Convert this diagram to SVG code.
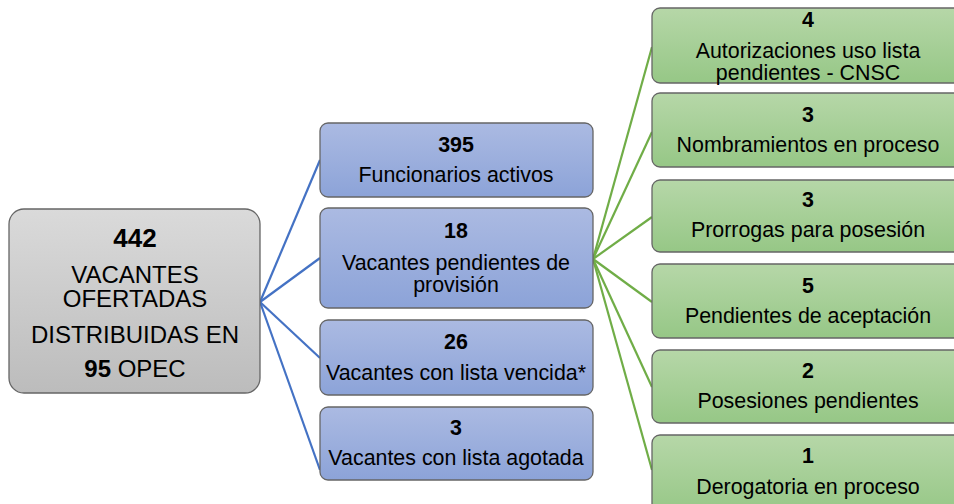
<svg xmlns="http://www.w3.org/2000/svg" width="954" height="504" viewBox="0 0 954 504">
<defs>
<linearGradient id="gGray" x1="0" y1="0" x2="0" y2="1"><stop offset="0" stop-color="#dadada"/><stop offset="1" stop-color="#bcbcbc"/></linearGradient>
<linearGradient id="gBlue" x1="0" y1="0" x2="0" y2="1"><stop offset="0" stop-color="#abbae2"/><stop offset="1" stop-color="#8ca3d8"/></linearGradient>
<linearGradient id="gGreen" x1="0" y1="0" x2="0" y2="1"><stop offset="0" stop-color="#b6d7a8"/><stop offset="1" stop-color="#96c786"/></linearGradient>
</defs>
<style>
text{font-family:"Liberation Sans",Arial,sans-serif;fill:#000;text-anchor:middle}
.b{font-weight:bold}
.box{stroke:#666;stroke-width:1.3}
.gray{fill:url(#gGray)}
.blue{fill:url(#gBlue)}
.green{fill:url(#gGreen)}
.t21{font-size:21.4px}
.t23{font-size:24px}
.bl{stroke:#4472c4;stroke-width:2.2;fill:none}
.gl{stroke:#70ad47;stroke-width:2.2;fill:none}
</style>
<g id="connectors">
<line class="bl" x1="260" y1="302" x2="320" y2="160"/>
<line class="bl" x1="260" y1="302" x2="320" y2="258"/>
<line class="bl" x1="260" y1="302" x2="320" y2="358"/>
<line class="bl" x1="260" y1="302" x2="320" y2="470"/>
<line class="gl" x1="593" y1="259" x2="652" y2="47"/>
<line class="gl" x1="593" y1="259" x2="652" y2="132"/>
<line class="gl" x1="593" y1="259" x2="652" y2="217"/>
<line class="gl" x1="593" y1="259" x2="652" y2="302"/>
<line class="gl" x1="593" y1="259" x2="652" y2="387"/>
<line class="gl" x1="593" y1="259" x2="652" y2="470"/>
</g>
<g id="root">
<rect class="box gray" x="9" y="209" width="251" height="184" rx="15"/>
<text class="b" x="135" y="247" font-size="26">442</text>
<text class="t23" x="135" y="283">VACANTES</text>
<text class="t23" x="135" y="307">OFERTADAS</text>
<text class="t23" x="135" y="343">DISTRIBUIDAS EN</text>
<text class="t23" x="135" y="377"><tspan class="b">95</tspan> OPEC</text>
</g>
<g id="n395">
<rect class="box blue" x="320" y="123" width="273" height="74" rx="8"/>
<text class="b t21" x="456" y="152">395</text>
<text class="t21" x="456" y="182">Funcionarios activos</text>
</g>
<g id="n18">
<rect class="box blue" x="320" y="208" width="273" height="100" rx="8"/>
<text class="b t21" x="456" y="238">18</text>
<text class="t21" x="456" y="270">Vacantes pendientes de</text>
<text class="t21" x="456" y="292">provisión</text>
</g>
<g id="n26">
<rect class="box blue" x="320" y="320" width="273" height="75" rx="8"/>
<text class="b t21" x="456" y="349">26</text>
<text class="t21" x="456" y="380">Vacantes con lista vencida*</text>
</g>
<g id="n3a">
<rect class="box blue" x="320" y="407" width="273" height="73" rx="8"/>
<text class="b t21" x="456" y="435">3</text>
<text class="t21" x="456" y="465">Vacantes con lista agotada</text>
</g>
<g id="g1">
<rect class="box green" x="652" y="8" width="316" height="75" rx="8"/>
<text class="b t21" x="808" y="27">4</text>
<text class="t21" x="808" y="58">Autorizaciones uso lista</text>
<text class="t21" x="808" y="80">pendientes - CNSC</text>
</g>
<g id="g2">
<rect class="box green" x="652" y="93" width="316" height="74" rx="8"/>
<text class="b t21" x="808" y="122">3</text>
<text class="t21" x="808" y="152">Nombramientos en proceso</text>
</g>
<g id="g3">
<rect class="box green" x="652" y="180" width="316" height="72" rx="8"/>
<text class="b t21" x="808" y="207">3</text>
<text class="t21" x="808" y="237">Prorrogas para posesión</text>
</g>
<g id="g4">
<rect class="box green" x="652" y="264" width="316" height="74" rx="8"/>
<text class="b t21" x="808" y="293">5</text>
<text class="t21" x="808" y="323">Pendientes de aceptación</text>
</g>
<g id="g5">
<rect class="box green" x="652" y="350" width="316" height="73" rx="8"/>
<text class="b t21" x="808" y="378">2</text>
<text class="t21" x="808" y="408">Posesiones pendientes</text>
</g>
<g id="g6">
<rect class="box green" x="652" y="435" width="316" height="80" rx="8"/>
<text class="b t21" x="808" y="463">1</text>
<text class="t21" x="808" y="494">Derogatoria en proceso</text>
</g>
</svg>
